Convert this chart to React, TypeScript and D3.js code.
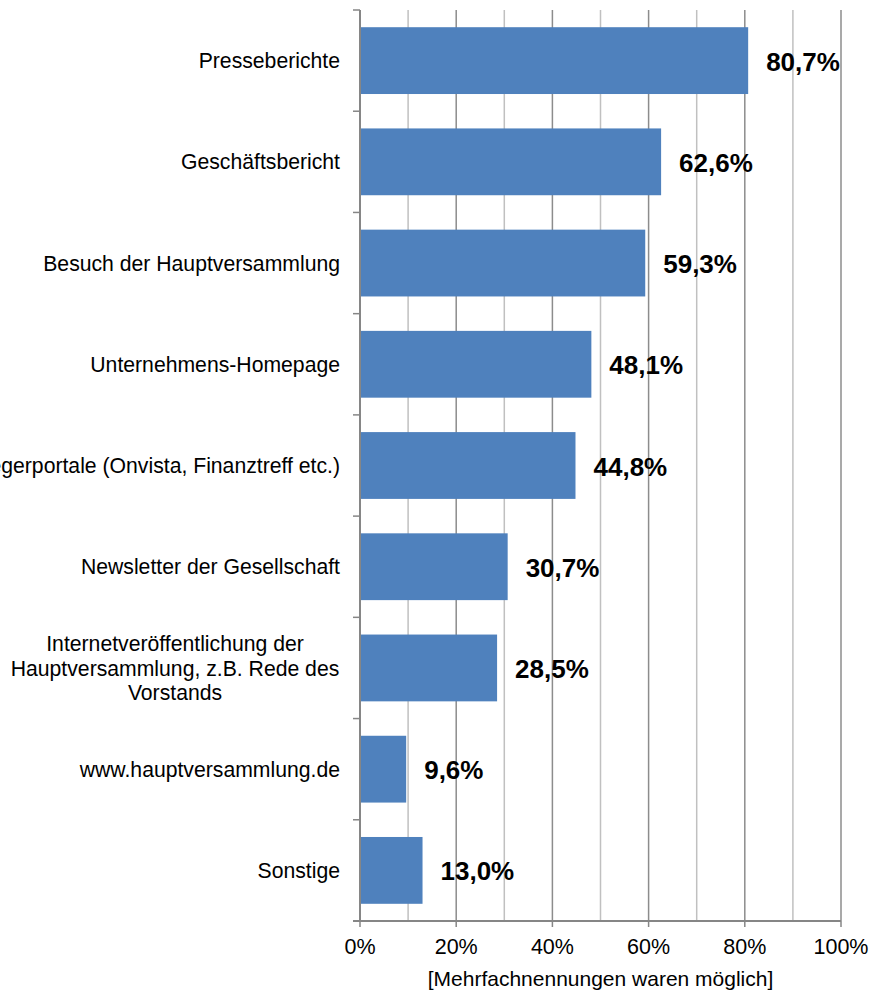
import React from "react";
import * as d3 from "d3";

const categories: string[][] = [
  ["Presseberichte"],
  ["Geschäftsbericht"],
  ["Besuch der Hauptversammlung"],
  ["Unternehmens-Homepage"],
  ["Anlegerportale (Onvista, Finanztreff etc.)"],
  ["Newsletter der Gesellschaft"],
  ["Internetveröffentlichung der", "Hauptversammlung, z.B. Rede des", "Vorstands"],
  ["www.hauptversammlung.de"],
  ["Sonstige"],
];
const values: number[] = [80.7, 62.6, 59.3, 48.1, 44.8, 30.7, 28.5, 9.6, 13.0];
const tickValues: number[] = [0, 20, 40, 60, 80, 100];
const minorGrid: number[] = [10, 30, 50, 70, 90];
const axisTitle = "[Mehrfachnennungen waren möglich]";

const W = 873;
const H = 990;
const FONT = "'Liberation Sans', Arial, sans-serif";

export default function App() {
  const x = d3.scaleLinear().domain([0, 100]).range([360, 841]);
  const y = d3
    .scaleBand<number>()
    .domain(d3.range(categories.length))
    .range([10, 921])
    .paddingInner(0)
    .paddingOuter(0);
  const bw = y.bandwidth();
  const barH = bw * 0.66;
  const bottom = 921;
  const fmt = (v: number) => v.toFixed(1).replace(".", ",") + "%";

  return (
    <svg
      width={W}
      height={H}
      style={{ position: "absolute", left: 0, top: 0, background: "#fff" }}
      fontFamily={FONT}
    >
      {minorGrid.map((t) => (
        <line key={"m" + t} x1={x(t)} x2={x(t)} y1={10} y2={bottom} stroke="#c0c0c0" strokeWidth={1.5} />
      ))}
      {tickValues.slice(1).map((t) => (
        <line key={"g" + t} x1={x(t)} x2={x(t)} y1={10} y2={bottom} stroke="#8c8c8c" strokeWidth={1.5} />
      ))}
      {values.map((v, i) => {
        const y0 = (y(i) as number) + (bw - barH) / 2;
        return (
          <g key={"b" + i}>
            <rect x={x(0)} y={y0} width={x(v) - x(0)} height={barH} fill="#4f81bd" />
            <text
              x={x(v) + 18}
              y={y0 + barH / 2 + 1}
              dominantBaseline="central"
              fontSize={26}
              fontWeight="bold"
              fill="#000"
            >
              {fmt(v)}
            </text>
          </g>
        );
      })}
      <line x1={x(0)} x2={x(0)} y1={10} y2={bottom} stroke="#868686" strokeWidth={2} />
      {d3.range(categories.length + 1).map((i) => {
        const yy = 10 + i * bw;
        return <line key={"yt" + i} x1={353} x2={x(0)} y1={yy} y2={yy} stroke="#868686" strokeWidth={1.5} />;
      })}
      <line x1={353} x2={x(100)} y1={bottom} y2={bottom} stroke="#868686" strokeWidth={2} />
      {tickValues.map((t) => (
        <g key={"xt" + t}>
          <line x1={x(t)} x2={x(t)} y1={bottom} y2={bottom + 6} stroke="#868686" strokeWidth={1.5} />
          <text x={x(t)} y={947} textAnchor="middle" dominantBaseline="central" fontSize={21.5} fill="#000">
            {t + "%"}
          </text>
        </g>
      ))}
      <text x={(x(0) + x(100)) / 2} y={978} textAnchor="middle" dominantBaseline="central" fontSize={21} fill="#000">
        {axisTitle}
      </text>
      {categories.map((lines, i) => {
        const cy = (y(i) as number) + bw / 2;
        const lh = 24.5;
        if (lines.length === 1) {
          return (
            <text key={"c" + i} x={340} y={cy} textAnchor="end" dominantBaseline="central" fontSize={21.2} fill="#000">
              {lines[0]}
            </text>
          );
        }
        return (
          <text key={"c" + i} x={175} textAnchor="middle" dominantBaseline="central" fontSize={21.2} fill="#000">
            {lines.map((l, j) => (
              <tspan key={j} x={175} y={cy + (j - (lines.length - 1) / 2) * lh}>
                {l}
              </tspan>
            ))}
          </text>
        );
      })}
    </svg>
  );
}
